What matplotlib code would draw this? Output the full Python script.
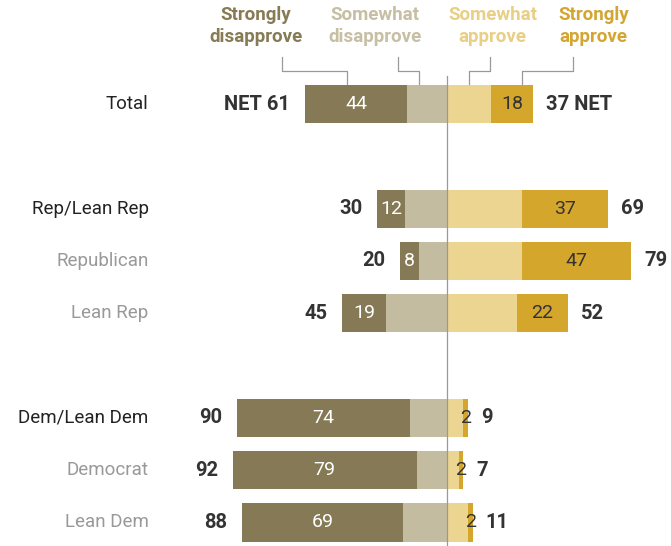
import matplotlib.pyplot as plt

plt.rcParams["font.family"] = ["Roboto", "DejaVu Sans"]

groups = ["Total", "Rep/Lean Rep", "Republican", "Lean Rep",
          "Dem/Lean Dem", "Democrat", "Lean Dem"]
strong_dis = [44, 12, 8, 19, 74, 79, 69]
some_dis = [17, 18, 12, 26, 16, 13, 19]
some_app = [19, 32, 32, 30, 7, 5, 9]
strong_app = [18, 37, 47, 22, 2, 2, 2]
net_dis = [61, 30, 20, 45, 90, 92, 88]
net_app = [37, 69, 79, 52, 9, 7, 11]
headers = ["Strongly\ndisapprove", "Somewhat\ndisapprove",
           "Somewhat\napprove", "Strongly\napprove"]

# layout
rows = [0, 2, 3, 4, 6, 7, 8]
sub = [False, False, True, True, False, True, True]
colors = ["#857a55", "#c3bca0", "#ecd591", "#d5a62c"]
head_colors = ["#877b55", "#c6bfa4", "#e9cf86", "#d3a631"]
head_x = [-82, -31, 19.5, 63]
brk_top = [-71, -21, 18.5, 54]
brk_bot = [-43, -12, 9.5, 32]
h = 0.73

fig = plt.figure(figsize=(6.71, 5.46), dpi=100)
ax = fig.add_axes([0, 0, 1, 1])
ax.set_xlim(-191.8, 96.1)
ax.set_ylim(8.45, -1.99)
ax.axis("off")

for i, y in enumerate(rows):
    sd, wd, wa, sa = strong_dis[i], some_dis[i], some_app[i], strong_app[i]
    ax.barh(y, -wd, height=h, color=colors[1])
    ax.barh(y, -sd, left=-wd, height=h, color=colors[0])
    ax.barh(y, wa, height=h, color=colors[2])
    ax.barh(y, sa, left=wa, height=h, color=colors[3])

    ax.text(-wd - sd / 2, y, str(sd), ha="center", va="center",
            color="white", fontsize=14)
    ax.text(wa + sa / 2, y, str(sa), ha="center", va="center",
            color="#333333", fontsize=14)

    left = f"NET {net_dis[i]}" if i == 0 else str(net_dis[i])
    right = f"{net_app[i]} NET" if i == 0 else str(net_app[i])
    ax.text(-net_dis[i] - 6.3, y, left, ha="right", va="center",
            fontsize=14.5, fontweight="bold", color="#333333")
    ax.text(net_app[i] + 5.5, y, right, ha="left", va="center",
            fontsize=14.5, fontweight="bold", color="#333333")

    ax.text(-128, y, groups[i], ha="right", va="center", fontsize=13.5,
            color="#999999" if sub[i] else "#222222")

# center line
ax.axvline(0, ymin=0, ymax=0.86, color="#999999", lw=0.9)

# headers with brackets
for k in range(4):
    ax.text(head_x[k], -1.49, headers[k], ha="center", va="center",
            fontsize=13.5, fontweight="bold", color=head_colors[k],
            linespacing=1.25)
    ax.plot([brk_top[k], brk_top[k], brk_bot[k], brk_bot[k]],
            [-0.9, -0.64, -0.64, -0.38], color="#999999", lw=0.9)

fig.savefig("out.png", dpi=100)
